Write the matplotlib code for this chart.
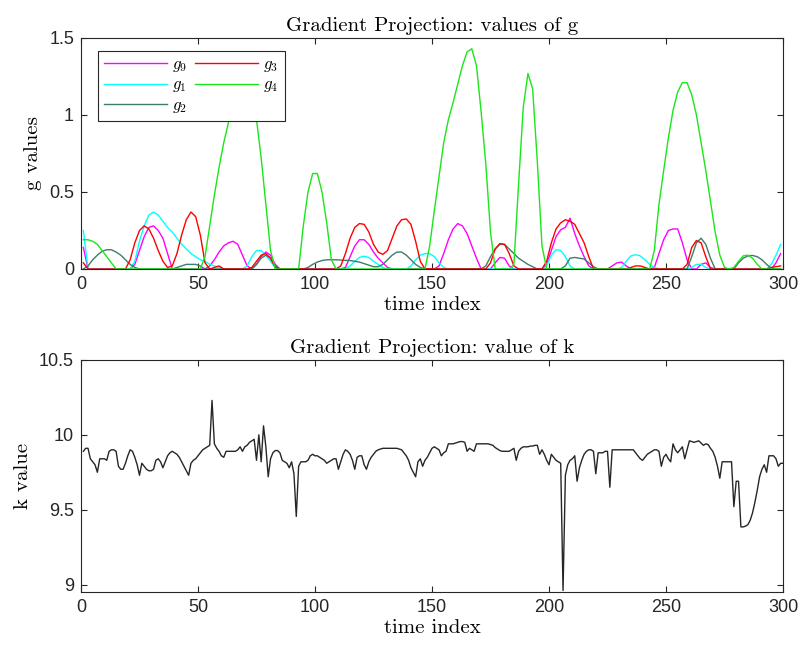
import numpy as np
import matplotlib
matplotlib.use("Agg")
import matplotlib.pyplot as plt

# ---- g series, sampled every other time step (t = 1, 3, ..., 299) ----
t_g = np.arange(1, 300, 2)

g4 = [0.19, 0.19, 0.18, 0.16, 0.12, 0.08, 0.04, 0.0, 0.0, 0.0,
      0, 0, 0, 0, 0, 0, 0, 0, 0, 0,
      0, 0, 0, 0, 0, 0.0, 0.08, 0.28, 0.48, 0.66,
      0.82, 0.95, 1.05, 1.12, 1.15, 1.14, 1.08, 0.97, 0.72, 0.42,
      0.12, 0.0, 0, 0, 0, 0, 0.0, 0.28, 0.5, 0.62,
      0.62, 0.5, 0.3, 0.06, 0, 0, 0, 0, 0, 0,
      0, 0, 0, 0, 0, 0, 0, 0, 0, 0,
      0, 0, 0, 0, 0.15, 0.38, 0.6, 0.82, 0.97, 1.08,
      1.2, 1.32, 1.41, 1.43, 1.32, 1.02, 0.68, 0.24, 0, 0,
      0, 0, 0.03, 0.55, 1.05, 1.27, 1.17, 0.7, 0.15, 0,
      0, 0, 0, 0, 0, 0, 0, 0, 0, 0,
      0, 0, 0, 0, 0, 0, 0, 0, 0, 0,
      0, 0, 0.12, 0.42, 0.64, 0.85, 1.03, 1.15, 1.21, 1.21,
      1.13, 1.0, 0.82, 0.64, 0.44, 0.24, 0.09, 0.01, 0, 0.01,
      0.05, 0.085, 0.09, 0.07, 0.03, 0, 0, 0, 0, 0]

g1 = [0.25, 0.0, 0, 0, 0, 0, 0, 0, 0, 0,
      0.0, 0.05, 0.18, 0.28, 0.35, 0.37, 0.35, 0.31, 0.27, 0.24,
      0.2, 0.16, 0.13, 0.1, 0.08, 0.06, 0.05, 0.03, 0.02, 0.01,
      0, 0, 0, 0, 0, 0.02, 0.08, 0.12, 0.12, 0.09,
      0.05, 0.01, 0, 0, 0, 0, 0, 0, 0, 0,
      0, 0, 0, 0, 0, 0, 0, 0.02, 0.05, 0.075,
      0.083, 0.075, 0.05, 0.03, 0.01, 0, 0, 0, 0, 0,
      0.02, 0.06, 0.09, 0.1, 0.1, 0.08, 0.04, 0.01, 0, 0,
      0, 0, 0, 0, 0, 0, 0, 0, 0, 0,
      0, 0, 0, 0, 0, 0, 0, 0, 0, 0.02,
      0.09, 0.125, 0.12, 0.08, 0.02, 0, 0, 0, 0, 0,
      0, 0, 0, 0, 0, 0.01, 0.05, 0.085, 0.093, 0.085,
      0.06, 0.03, 0.01, 0, 0, 0, 0, 0, 0, 0,
      0.01, 0.03, 0.03, 0.01, 0, 0, 0, 0, 0, 0,
      0, 0, 0, 0, 0, 0, 0, 0.03, 0.09, 0.16]

g9 = [0.14, 0, 0, 0, 0, 0, 0, 0, 0, 0,
      0, 0.03, 0.12, 0.21, 0.27, 0.28, 0.25, 0.2, 0.1, 0.0,
      0, 0, 0, 0, 0, 0, 0, 0.02, 0.06, 0.11,
      0.15, 0.17, 0.18, 0.16, 0.09, 0.02, 0.0, 0.03, 0.08, 0.11,
      0.09, 0.03, 0, 0, 0, 0, 0, 0, 0, 0,
      0, 0, 0, 0, 0, 0, 0.01, 0.08, 0.15, 0.19,
      0.19, 0.16, 0.11, 0.07, 0.04, 0.01, 0, 0, 0, 0,
      0, 0, 0, 0, 0, 0, 0.02, 0.1, 0.19, 0.26,
      0.295, 0.28, 0.23, 0.15, 0.07, 0.0, 0, 0, 0.04, 0.075,
      0.07, 0.02, 0, 0, 0, 0, 0, 0, 0, 0.03,
      0.12, 0.21, 0.255, 0.27, 0.33, 0.23, 0.15, 0.08, 0.02, 0,
      0, 0, 0, 0.02, 0.04, 0.045, 0.02, 0, 0, 0,
      0, 0, 0.01, 0.1, 0.19, 0.25, 0.26, 0.26, 0.17, 0.06,
      0, 0, 0.03, 0.04, 0.01, 0, 0, 0, 0, 0,
      0, 0, 0, 0, 0, 0, 0, 0, 0.04, 0.1]

g3 = [0.04, 0, 0, 0, 0, 0, 0, 0, 0, 0,
      0.06, 0.17, 0.25, 0.28, 0.26, 0.2, 0.12, 0.05, 0.01, 0.02,
      0.1, 0.22, 0.32, 0.37, 0.34, 0.22, 0.04, 0, 0.01, 0.02,
      0, 0, 0, 0, 0, 0, 0.01, 0.05, 0.09, 0.1,
      0.07, 0.01, 0, 0, 0, 0, 0, 0, 0, 0,
      0, 0, 0, 0, 0, 0.02, 0.1, 0.2, 0.27, 0.295,
      0.29, 0.24, 0.16, 0.11, 0.095, 0.12, 0.2, 0.28, 0.32, 0.325,
      0.29, 0.18, 0.05, 0, 0, 0, 0, 0, 0, 0,
      0, 0, 0, 0, 0, 0, 0, 0.04, 0.13, 0.165,
      0.16, 0.1, 0.02, 0, 0, 0, 0, 0, 0, 0.05,
      0.17, 0.26, 0.3, 0.32, 0.31, 0.29, 0.23, 0.17, 0.08, 0,
      0, 0, 0, 0, 0, 0, 0, 0.01, 0.02, 0.02,
      0.01, 0, 0, 0, 0, 0, 0, 0, 0, 0.03,
      0.14, 0.185, 0.17, 0.08, 0, 0, 0, 0, 0, 0,
      0, 0, 0, 0, 0, 0, 0, 0.01, 0.015, 0.02]

g2 = [0.0, 0.02, 0.06, 0.09, 0.115, 0.125, 0.125, 0.11, 0.09, 0.06,
      0.03, 0.01, 0, 0, 0, 0, 0, 0, 0, 0,
      0.01, 0.02, 0.03, 0.03, 0.03, 0.02, 0, 0, 0, 0,
      0, 0, 0, 0, 0, 0, 0, 0.03, 0.07, 0.09,
      0.07, 0.02, 0, 0, 0, 0, 0, 0, 0.01, 0.03,
      0.045, 0.055, 0.06, 0.06, 0.06, 0.058, 0.056, 0.055, 0.05, 0.045,
      0.035, 0.025, 0.015, 0.015, 0.03, 0.06, 0.09, 0.11, 0.11, 0.09,
      0.06, 0.03, 0.01, 0, 0, 0, 0, 0, 0, 0,
      0, 0, 0, 0, 0, 0, 0.02, 0.08, 0.13, 0.16,
      0.16, 0.13, 0.1, 0.07, 0.05, 0.03, 0.015, 0, 0, 0,
      0, 0, 0, 0.02, 0.07, 0.075, 0.07, 0.065, 0.04, 0.015,
      0, 0, 0, 0, 0, 0, 0, 0, 0, 0,
      0, 0, 0, 0, 0, 0, 0, 0, 0, 0,
      0.08, 0.17, 0.2, 0.16, 0.07, 0, 0, 0, 0, 0,
      0.04, 0.07, 0.085, 0.088, 0.08, 0.06, 0.03, 0.005, 0, 0]

# ---- k value at every time step (t = 1 .. 300) ----
t_k = np.arange(1, 301)
k = [9.89, 9.91, 9.91, 9.84, 9.82, 9.80, 9.75, 9.84, 9.84, 9.84,
     9.83, 9.89, 9.90, 9.90, 9.89, 9.79, 9.77, 9.77, 9.81, 9.86,
     9.90, 9.89, 9.85, 9.80, 9.73, 9.81, 9.79, 9.77, 9.76, 9.76,
     9.77, 9.83, 9.84, 9.82, 9.78, 9.82, 9.86, 9.88, 9.89, 9.88,
     9.87, 9.85, 9.82, 9.79, 9.76, 9.73, 9.81, 9.83, 9.84, 9.86,
     9.88, 9.90, 9.91, 9.92, 9.93, 10.23, 9.94, 9.91, 9.89, 9.86,
     9.85, 9.89, 9.89, 9.89, 9.89, 9.89, 9.90, 9.92, 9.89, 9.92,
     9.93, 9.95, 9.96, 9.97, 9.83, 10.00, 9.82, 10.06, 9.92, 9.72,
     9.84, 9.88, 9.895, 9.895, 9.88, 9.83, 9.82, 9.81, 9.78, 9.82,
     9.74, 9.455, 9.79, 9.82, 9.82, 9.82, 9.83, 9.86, 9.87, 9.86,
     9.86, 9.85, 9.84, 9.83, 9.81, 9.82, 9.83, 9.84, 9.84, 9.77,
     9.82, 9.87, 9.90, 9.89, 9.87, 9.83, 9.77, 9.85, 9.86, 9.86,
     9.80, 9.77, 9.82, 9.85, 9.87, 9.89, 9.90, 9.905, 9.91, 9.91,
     9.91, 9.91, 9.91, 9.91, 9.91, 9.905, 9.90, 9.88, 9.86, 9.83,
     9.78, 9.75, 9.72, 9.82, 9.84, 9.79, 9.83, 9.85, 9.88, 9.91,
     9.92, 9.91, 9.90, 9.86, 9.88, 9.89, 9.94, 9.94, 9.94, 9.945,
     9.95, 9.955, 9.955, 9.95, 9.89, 9.91, 9.90, 9.89, 9.94, 9.94,
     9.94, 9.94, 9.94, 9.94, 9.935, 9.93, 9.915, 9.905, 9.895, 9.89,
     9.89, 9.89, 9.89, 9.90, 9.91, 9.83, 9.89, 9.91, 9.92, 9.92,
     9.92, 9.925, 9.925, 9.93, 9.93, 9.87, 9.90, 9.87, 9.83, 9.80,
     9.87, 9.85, 9.83, 9.82, 9.81, 8.96, 9.73, 9.80, 9.83, 9.84,
     9.86, 9.69, 9.78, 9.83, 9.87, 9.89, 9.90, 9.90, 9.89, 9.74,
     9.88, 9.88, 9.88, 9.89, 9.89, 9.65, 9.90, 9.90, 9.90, 9.90,
     9.90, 9.90, 9.90, 9.90, 9.90, 9.90, 9.88, 9.86, 9.84, 9.83,
     9.85, 9.87, 9.88, 9.89, 9.90, 9.90, 9.89, 9.79, 9.85, 9.87,
     9.84, 9.82, 9.94, 9.90, 9.88, 9.90, 9.92, 9.84, 9.90, 9.96,
     9.955, 9.95, 9.955, 9.96, 9.945, 9.93, 9.94, 9.935, 9.91, 9.89,
     9.85, 9.79, 9.71, 9.82, 9.82, 9.82, 9.82, 9.82, 9.52, 9.69,
     9.69, 9.385, 9.385, 9.39, 9.40, 9.43, 9.48, 9.55, 9.63, 9.72,
     9.77, 9.80, 9.75, 9.86, 9.86, 9.86, 9.84, 9.79, 9.81, 9.81]

x_ticks = [0, 50, 100, 150, 200, 250, 300]
g_yticks = [0, 0.5, 1, 1.5]
g_yticklabels = ["0", "0.5", "1", "1.5"]
k_yticks = [9, 9.5, 10, 10.5]
k_yticklabels = ["9", "9.5", "10", "10.5"]

series = [
    (g9, "$g_9$", (1.0, 0.0, 1.0)),
    (g1, "$g_1$", (0.0, 1.0, 1.0)),
    (g2, "$g_2$", (0.24, 0.49, 0.42)),
    (g3, "$g_3$", (1.0, 0.0, 0.0)),
    (g4, "$g_4$", (0.1, 0.9, 0.1)),
]

plt.rcParams["mathtext.fontset"] = "cm"
plt.rcParams["font.family"] = ["Liberation Sans", "DejaVu Sans"]
axis_grey = (0.15, 0.15, 0.15)
serif = "cmr10"
label_size = 15

fig = plt.figure(figsize=(8.01, 6.46), dpi=100)
ax1 = fig.add_axes([81 / 801, 1 - 269 / 646, 702 / 801, 231 / 646])
ax2 = fig.add_axes([81 / 801, 1 - 592 / 646, 702 / 801, 232 / 646])


def style(ax):
    for sp in ax.spines.values():
        sp.set_color(axis_grey)
        sp.set_linewidth(0.8)
    ax.tick_params(direction="in", top=True, right=True, length=4,
                   width=0.8, color=axis_grey, labelsize=13,
                   labelcolor=axis_grey, pad=5)
    ax.set_xlim(0, 300)
    ax.set_xticks(x_ticks)
    ax.set_xticklabels([str(v) for v in x_ticks])


# top panel: g values
for vals, lab, col in series:
    ax1.plot(t_g, vals, color=col, lw=1.0, label=lab)
style(ax1)
ax1.set_ylim(0, 1.5)
ax1.set_yticks(g_yticks)
ax1.set_yticklabels(g_yticklabels)
ax1.set_title("Gradient Projection: values of g", family=serif,
              fontsize=label_size, pad=5)
ax1.set_xlabel("time index", family=serif, fontsize=label_size, labelpad=2)
ax1.set_ylabel("g values", family=serif, fontsize=label_size, labelpad=5)
leg = ax1.legend(loc="upper left", ncol=2, fontsize=12, handlelength=3.8,
                 columnspacing=0.45, handletextpad=0.3, labelspacing=0.22,
                 borderpad=0.35, borderaxespad=0.0, frameon=True,
                 fancybox=False, framealpha=1.0,
                 bbox_to_anchor=(17 / 702, 1 - 13 / 231))
leg.get_frame().set_edgecolor(axis_grey)
leg.get_frame().set_linewidth(0.8)

# bottom panel: k value
ax2.plot(t_k, k, color=axis_grey, lw=1.0)
style(ax2)
ax2.set_ylim(8.95, 10.5)
ax2.set_yticks(k_yticks)
ax2.set_yticklabels(k_yticklabels)
ax2.set_title("Gradient Projection: value of k", family=serif,
              fontsize=label_size, pad=5)
ax2.set_xlabel("time index", family=serif, fontsize=label_size, labelpad=2)
ax2.set_ylabel("k value", family=serif, fontsize=label_size, labelpad=5)

fig.savefig("out.png", dpi=100)
